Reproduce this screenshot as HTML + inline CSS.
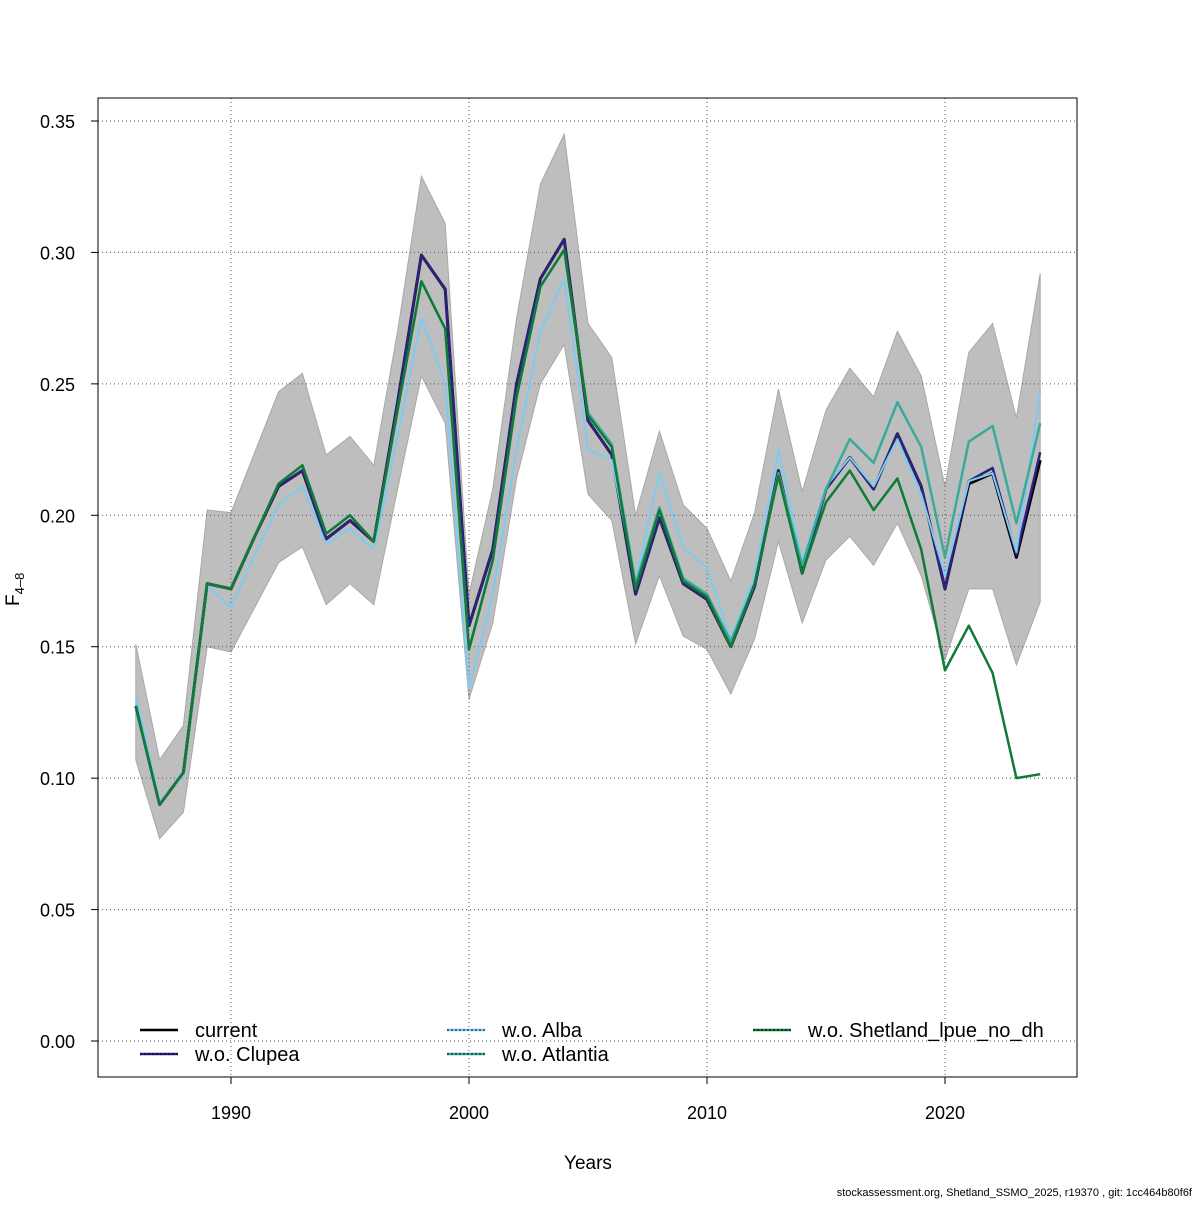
<!DOCTYPE html>
<html><head><meta charset="utf-8"><style>
body{margin:0;background:#fff;width:1200px;height:1200px;overflow:hidden}
svg text{font-family:"Liberation Sans",sans-serif;fill:#000}
</style></head><body>
<svg id="chart" width="1200" height="1200" xmlns="http://www.w3.org/2000/svg"></svg>
<script>
const years=[];for(let y=1986;y<=2024;y++)years.push(y);
const yTicks=[0,0.05,0.10,0.15,0.20,0.25,0.30,0.35];
const yTickLabels=["0.00","0.05","0.10","0.15","0.20","0.25","0.30","0.35"];
const xTicks=[1990,2000,2010,2020];
const upper=[0.151,0.107,0.120,0.202,0.201,0.224,0.247,0.254,0.223,0.230,0.219,0.270,0.329,0.311,0.170,0.210,0.275,0.326,0.345,0.273,0.260,0.200,0.232,0.204,0.195,0.175,0.201,0.248,0.209,0.240,0.256,0.245,0.270,0.253,0.211,0.262,0.273,0.237,0.292];
const lower=[0.107,0.077,0.087,0.150,0.148,0.165,0.182,0.188,0.166,0.174,0.166,0.210,0.253,0.235,0.130,0.159,0.214,0.250,0.265,0.208,0.198,0.151,0.177,0.154,0.149,0.132,0.153,0.190,0.159,0.183,0.192,0.181,0.197,0.177,0.145,0.172,0.172,0.143,0.167];
const shetland=[0.1275,0.090,0.102,0.174,0.172,0.192,0.212,0.219,0.193,0.200,0.190,0.240,0.289,0.271,0.149,0.183,0.245,0.287,0.301,0.238,0.226,0.172,0.202,0.175,0.169,0.150,0.174,0.215,0.178,0.205,0.217,0.202,0.214,0.187,0.141,0.158,0.140,0.100,0.1015];
const clupea=[0.1275,0.090,0.102,0.174,0.172,0.192,0.211,0.217,0.191,0.198,0.190,0.243,0.299,0.286,0.158,0.187,0.250,0.290,0.305,0.236,0.223,0.170,0.199,0.174,0.168,0.150,0.173,0.217,0.178,0.210,0.222,0.210,0.231,0.211,0.172,0.213,0.218,0.185,0.224];
const current=[0.1275,0.090,0.102,0.174,0.172,0.192,0.211,0.217,0.191,0.198,0.190,0.243,0.299,0.286,0.158,0.187,0.250,0.290,0.305,0.236,0.223,0.170,0.199,0.174,0.168,0.150,0.173,0.217,0.178,0.210,0.222,0.210,0.231,0.211,0.172,0.212,0.216,0.184,0.221];
const alba=[0.132,0.091,0.101,0.173,0.165,0.185,0.204,0.211,0.189,0.195,0.187,0.230,0.275,0.250,0.134,0.170,0.225,0.270,0.290,0.225,0.221,0.175,0.216,0.188,0.180,0.153,0.177,0.225,0.182,0.211,0.222,0.211,0.229,0.208,0.177,0.213,0.216,0.186,0.247];
const atlantia=[0.1275,0.090,0.102,0.174,0.172,0.192,0.212,0.219,0.193,0.200,0.190,0.240,0.289,0.271,0.149,0.183,0.245,0.287,0.301,0.239,0.227,0.174,0.203,0.176,0.170,0.152,0.174,0.216,0.181,0.210,0.229,0.220,0.243,0.226,0.184,0.228,0.234,0.197,0.235];

const X=y=>231+(y-1990)*23.8;
const Y=v=>1041-v*2628.57;
const svg=document.getElementById('chart');
const NS='http://www.w3.org/2000/svg';
function mk(tag,attrs,parent){const e=document.createElementNS(NS,tag);for(const k in attrs)e.setAttribute(k,attrs[k]);(parent||svg).appendChild(e);return e;}

let d='M'+years.map((y,i)=>X(y)+','+Y(upper[i])).join('L')+'L'+years.slice().reverse().map((y,j)=>X(y)+','+Y(lower[years.length-1-j])).join('L')+'Z';
const band=mk('path',{d:d,fill:'#bebebe',stroke:'#a8a8a8','stroke-width':1});



yTicks.forEach(v=>{const g=mk('line',{x1:98,x2:1077,y1:Y(v),y2:Y(v),stroke:'#555','stroke-dasharray':'1,3'});

});
xTicks.forEach(v=>{const g=mk('line',{x1:X(v),x2:X(v),y1:98,y2:1077,stroke:'#555','stroke-dasharray':'1,3'});

});

function line(arr,color,w,name,dash){const p=mk('polyline',{points:years.map((y,i)=>X(y)+','+Y(arr[i])).join(' '),fill:'none',stroke:color,'stroke-width':w,'stroke-linejoin':'round'});
if(dash)p.setAttribute('stroke-dasharray',dash);

}
line(current,'#000',3,'line-current');
line(clupea,'#2d2280',2.5,'line-wo-clupea');
line(alba,'#7ecbf0',2,'line-wo-alba');
line(atlantia,'#3aaa9a',2.5,'line-wo-atlantia');
line(shetland,'#107a38',2.5,'line-wo-shetland');

const fr=mk('rect',{x:98,y:98,width:979,height:979,fill:'none',stroke:'#000','stroke-width':1});



yTicks.forEach((v,i)=>{mk('line',{x1:91,x2:98,y1:Y(v),y2:Y(v),stroke:'#000'});
const t=mk('text',{x:75,y:Y(v)+7,'text-anchor':'end','font-size':18});t.textContent=yTickLabels[i];

});
xTicks.forEach(v=>{mk('line',{x1:X(v),x2:X(v),y1:1077,y2:1084,stroke:'#000'});
const t=mk('text',{x:X(v),y:1119,'text-anchor':'middle','font-size':18});t.textContent=v;

});

const xt=mk('text',{x:588,y:1169,'text-anchor':'middle','font-size':19});xt.textContent='Years';


const yt=mk('text',{x:0,y:0,transform:'translate(19,606) rotate(-90)','font-size':19});
yt.innerHTML='F<tspan font-size="13" dy="5">4–8</tspan>';


const ft=mk('text',{x:1192,y:1196,'text-anchor':'end','font-size':11});ft.textContent='stockassessment.org, Shetland_SSMO_2025, r19370 , git: 1cc464b80f6f';



const leg=[['current','#000',140,1030],['w.o. Clupea','#2d2280',140,1054],['w.o. Alba','#7ecbf0',447,1030],['w.o. Atlantia','#3aaa9a',447,1054],['w.o. Shetland_lpue_no_dh','#107a38',753,1030]];
leg.forEach(l=>{const g=mk('g',{});


mk('line',{x1:l[2],x2:l[2]+38,y1:l[3],y2:l[3],stroke:l[1],'stroke-width':2.5},g);
if(l[0]!=='current')mk('line',{x1:l[2],x2:l[2]+38,y1:l[3],y2:l[3],stroke:'#000','stroke-width':1,'stroke-dasharray':'2,2'},g);
const t=mk('text',{x:l[2]+55,y:l[3]+7,'font-size':20},g);t.textContent=l[0];});
</script>
</body></html>
